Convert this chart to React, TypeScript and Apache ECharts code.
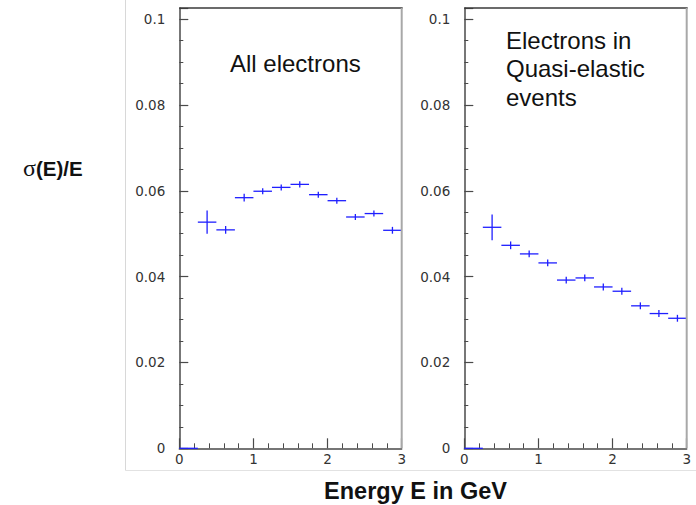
import React, { useEffect, useRef } from "react";
import * as echarts from "echarts";

// Energy bins (GeV): centres of 0.25-GeV bins from 0 to 3
const binCenters = [0.125, 0.375, 0.625, 0.875, 1.125, 1.375, 1.625, 1.875, 2.125, 2.375, 2.625, 2.875];
const binHalfWidth = 0.125;

// Left panel: all electrons, sigma(E)/E
const allElectrons = [0, 0.0527, 0.0509, 0.0584, 0.0599, 0.0608, 0.0615, 0.0591, 0.0577, 0.0539, 0.0547, 0.0508];
const allErrors = [0, 0.0027, 0.0009, 0.0009, 0.0007, 0.0007, 0.0007, 0.0007, 0.0007, 0.0007, 0.0007, 0.0008];

// Right panel: electrons in quasi-elastic events
const qeElectrons = [0, 0.0515, 0.0473, 0.0453, 0.0432, 0.0392, 0.0397, 0.0376, 0.0366, 0.0332, 0.0314, 0.0303];
const qeErrors = [0, 0.003, 0.0009, 0.0008, 0.0008, 0.0008, 0.0008, 0.0008, 0.0008, 0.0008, 0.0008, 0.0008];

// Axis settings
const xMin = 0;
const xMax = 3;
const xInterval = 1;
const yMin = 0;
const yMax = 0.1026;
const yInterval = 0.02;

const panelTitles = ["All electrons", "Electrons in\nQuasi-elastic\nevents"];
const yTitle = "σ(E)/E";
const xTitle = "Energy E in GeV";

const LABEL_FONT = "DejaVu Sans";
const SANS = "Liberation Sans, Arial, sans-serif";

function fmtY(v: number): string {
  const k = Math.round(v / yInterval);
  if (Math.abs(v - k * yInterval) > 1e-6) return "";
  if (k === 0) return "0";
  const s = (k * yInterval).toFixed(2);
  return s.replace(/0+$/, "").replace(/\.$/, "");
}

function makeData(values: number[], errs: number[]) {
  return binCenters.map((x, i) => [x, values[i], errs[i]]);
}

const renderErr = (params: any, api: any) => {
  const x = api.value(0);
  const y = api.value(1);
  const e = api.value(2);
  const l = api.coord([x - binHalfWidth, y]);
  const r = api.coord([x + binHalfWidth, y]);
  const t = api.coord([x, y + e]);
  const b = api.coord([x, y - e]);
  const style = { stroke: "#1f1fff", lineWidth: 1.3, fill: "none" };
  const children: any[] = [
    { type: "line", shape: { x1: l[0], y1: l[1], x2: r[0], y2: r[1] }, style },
  ];
  if (e > 0) {
    children.push({ type: "line", shape: { x1: t[0], y1: t[1], x2: b[0], y2: b[1] }, style });
  }
  return { type: "group", children };
};

function xAxisOpt(gridIndex: number) {
  return {
    type: "value",
    gridIndex,
    min: xMin,
    max: xMax,
    interval: xInterval,
    axisLine: { show: true, lineStyle: { color: "#4a4a4a", width: 1.5 } },
    axisTick: { show: true, inside: true, length: 10, lineStyle: { color: "#4a4a4a", width: 1.2 } },
    minorTick: { show: true, splitNumber: 5, length: 5, lineStyle: { color: "#4a4a4a", width: 1 } },
    splitLine: { show: false },
    axisLabel: { color: "#333", fontFamily: LABEL_FONT, fontSize: 13.5, margin: 4 },
  };
}

function yAxisOpt(gridIndex: number) {
  return {
    type: "value",
    gridIndex,
    min: yMin,
    max: yMax,
    interval: yInterval,
    axisLine: { show: true, lineStyle: { color: "#4a4a4a", width: 1.5 } },
    axisTick: { show: true, inside: true, length: 9, lineStyle: { color: "#4a4a4a", width: 1.2 } },
    minorTick: { show: true, splitNumber: 4, length: 4, lineStyle: { color: "#4a4a4a", width: 1 } },
    splitLine: { show: false },
    axisLabel: { color: "#333", fontFamily: LABEL_FONT, fontSize: 13.5, margin: 14, formatter: fmtY },
  };
}

export default function App() {
  const ref = useRef<HTMLDivElement>(null);
  useEffect(() => {
    if (!ref.current) return;
    const chart = echarts.init(ref.current, null, { renderer: "svg" });
    const grids = [
      { left: 179.3, top: 8, width: 222.4, height: 440.3 },
      { left: 464.3, top: 8, width: 222.4, height: 440.3 },
    ];
    const borderLines: any[] = [];
    grids.forEach((g) => {
      const r = g.left + g.width;
      const b = g.top + g.height;
      borderLines.push({
        type: "line",
        shape: { x1: g.left, y1: g.top, x2: r + 1, y2: g.top },
        style: { stroke: "#3a3a3a", lineWidth: 1.5 },
        z: 10,
      });
      borderLines.push({
        type: "line",
        shape: { x1: r, y1: g.top, x2: r, y2: b },
        style: { stroke: "#a8a8a8", lineWidth: 2 },
        z: 10,
      });
    });
    chart.setOption({
      animation: false,
      backgroundColor: "#fff",
      grid: grids,
      xAxis: [xAxisOpt(0), xAxisOpt(1)],
      yAxis: [yAxisOpt(0), yAxisOpt(1)],
      series: [
        {
          type: "custom",
          xAxisIndex: 0,
          yAxisIndex: 0,
          renderItem: renderErr,
          data: makeData(allElectrons, allErrors),
          z: 5,
        },
        {
          type: "custom",
          xAxisIndex: 1,
          yAxisIndex: 1,
          renderItem: renderErr,
          data: makeData(qeElectrons, qeErrors),
          z: 5,
        },
      ],
      graphic: [
        {
          type: "line",
          shape: { x1: 125.5, y1: 0, x2: 125.5, y2: 470.5 },
          style: { stroke: "#d8d8d8", lineWidth: 1 },
        },
        {
          type: "line",
          shape: { x1: 125.5, y1: 470.5, x2: 696, y2: 470.5 },
          style: { stroke: "#e2e2e2", lineWidth: 1 },
        },
        ...borderLines,
        {
          type: "text",
          x: 230,
          y: 63,
          style: {
            text: panelTitles[0],
            fill: "#111",
            font: `24px ${SANS}`,
            verticalAlign: "middle",
            align: "left",
          },
        },
        {
          type: "text",
          x: 506,
          y: 26,
          style: {
            text: panelTitles[1],
            fill: "#111",
            font: `24px ${SANS}`,
            lineHeight: 28.4,
            verticalAlign: "top",
            align: "left",
          },
        },
        {
          type: "text",
          x: 23,
          y: 168,
          style: {
            text: `{s|${yTitle.slice(0, 1)}}{b|${yTitle.slice(1)}}`,
            verticalAlign: "middle",
            align: "left",
            rich: {
              s: { fontFamily: "Liberation Serif, serif", fontSize: 24, fill: "#111", color: "#111" },
              b: { fontFamily: SANS, fontSize: 20.5, fontWeight: "bold", fill: "#111", color: "#111" },
            },
          },
        },
        {
          type: "text",
          x: 415.5,
          y: 491,
          style: {
            text: xTitle,
            fill: "#111",
            font: `bold 23.5px ${SANS}`,
            verticalAlign: "middle",
            align: "center",
          },
        },
      ],
    });
    return () => chart.dispose();
  }, []);
  return (
    <div
      ref={ref}
      style={{ position: "fixed", left: 0, top: 0, width: 696, height: 505 }}
    />
  );
}
